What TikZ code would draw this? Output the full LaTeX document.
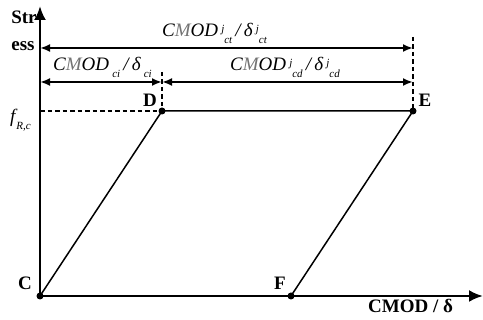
\documentclass[tikz,border=0pt]{standalone}
\usepackage{fontspec}
\setmainfont{Liberation Serif}
\usetikzlibrary{arrows.meta}
\newcommand\supx[1]{\raisebox{0.55ex}{\fontsize{11}{11}\selectfont #1}}
\newcommand\subx[1]{\raisebox{-0.75ex}{\fontsize{11}{11}\selectfont #1}}
\begin{document}
\begin{tikzpicture}[x=1pt,y=-1pt,
  axis/.style={line width=2.6pt,-{Latex[length=14pt,width=12pt]}},
  dim/.style={line width=2pt,{Latex[length=10pt,width=8pt]}-{Latex[length=10pt,width=8pt]}},
  guide/.style={line width=1.1pt,dash pattern=on 4.5pt off 3pt},
  curve/.style={line width=1.5pt},
  pt/.style={circle,fill=black,inner sep=0pt,minimum size=7pt},
  lbl/.style={font=\fontsize{19}{19}\selectfont\bfseries,inner sep=0pt},
  itl/.style={font=\fontsize{19}{19}\selectfont\itshape,inner sep=0pt,anchor=base west}]
\useasboundingbox (0,0) rectangle (483,320);
% key points
\coordinate (C) at (40,296);
\coordinate (D) at (162,111);
\coordinate (E) at (413,111);
\coordinate (F) at (291,296);
\coordinate (ytop) at (40,6);
\coordinate (xend) at (483,296);
\coordinate (fR) at (40,111);
\coordinate (Dtop) at (162,72);
\coordinate (Etop) at (413,37);
\coordinate (a1l) at (40,48);
\coordinate (a1r) at (413,48);
\coordinate (a2l) at (40,82);
\coordinate (a2m) at (162,82);
\coordinate (a2r) at (413,82);
% axes
\draw[axis] (C) -- (ytop);
\draw[axis] (C) -- (xend);
% guides
\draw[guide] (fR) -- (D);
\draw[guide] (Dtop) -- (D);
\draw[guide] (Etop) -- (E);
% curve
\draw[curve] (C) -- (D) -- (E) -- (F);
% dimension arrows
\draw[dim] (a1l) -- (a1r);
\draw[dim] (a2l) -- (a2m);
\draw[dim] (a2m) -- (a2r);
% points
\node[pt] (pC) at (C) {};
\node[pt] (pD) at (D) {};
\node[pt] (pE) at (E) {};
\node[pt] (pF) at (F) {};
% labels
\node[lbl] (lC) at (25,283) {C};
\node[lbl] (lF) at (280,283) {F};
\node[lbl] (lD) at (150,100) {D};
\node[lbl] (lE) at (425,100) {E};
\node[lbl] (lS1) at (24,17) {Str};
\node[lbl] (lS2) at (23,46) {ess};
\node[lbl,anchor=base west] (lx) at (368,313) {CMOD / δ};
\node[itl] (lfr) at (10,123) {f\kern1pt\subx{R,c}};
\node[itl] (lct) at (162,37) {C\textcolor{black!55}{M}OD\,\supx{j}\subx{ct}\,/\,δ\,\supx{j}\subx{ct}};
\node[itl] (lci) at (53,71) {C\textcolor{black!55}{M}OD\,\subx{ci}\,/\,δ\,\subx{ci}};
\node[itl] (lcd) at (230,71) {C\textcolor{black!55}{M}OD\,\supx{j}\subx{cd}\,/\,δ\,\supx{j}\subx{cd}};
\end{tikzpicture}
\end{document}
